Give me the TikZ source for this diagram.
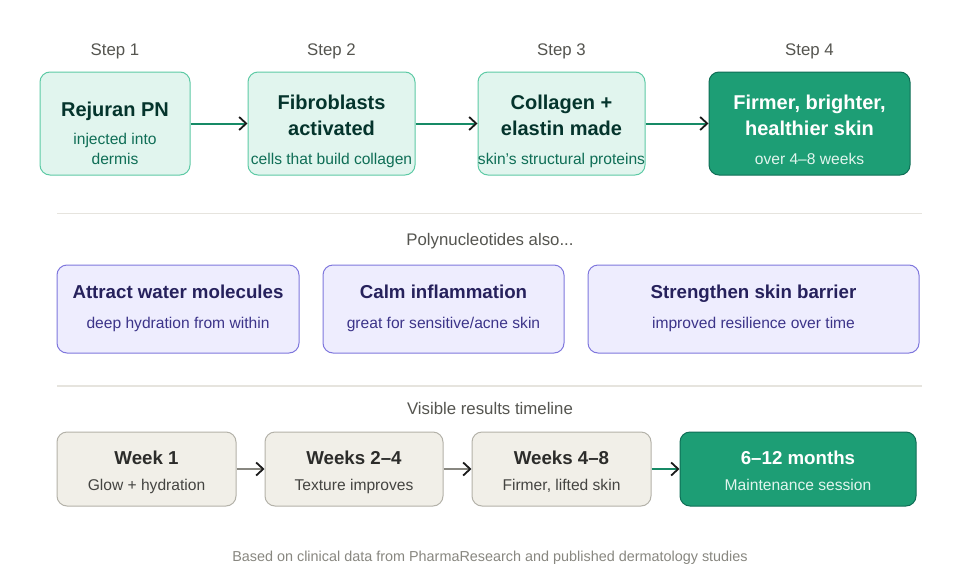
\documentclass[tikz,border=0pt]{standalone}
\usepackage{fontspec}
\setmainfont{Liberation Sans}
\usetikzlibrary{arrows.meta}
\definecolor{lgfill}{HTML}{E1F5EE}
\definecolor{lgborder}{HTML}{5DCAA5}
\definecolor{lgtitle}{HTML}{04342C}
\definecolor{lgsub}{HTML}{0F6E56}
\definecolor{dgfill}{HTML}{1D9E75}
\definecolor{dgborder}{HTML}{0F6E56}
\definecolor{dgsub}{HTML}{E1F5EE}
\definecolor{garrow}{HTML}{168A66}
\definecolor{pfill}{HTML}{EEEDFE}
\definecolor{pborder}{HTML}{7F77DD}
\definecolor{ptitle}{HTML}{26215C}
\definecolor{psub}{HTML}{3C3489}
\definecolor{bfill}{HTML}{F1EFE8}
\definecolor{bborder}{HTML}{B4B2A9}
\definecolor{btitle}{HTML}{2C2C2A}
\definecolor{bsub}{HTML}{444441}
\definecolor{grayarrow}{HTML}{888780}
\definecolor{sepline}{HTML}{E6E4DE}
\definecolor{labelcol}{HTML}{555550}
\definecolor{footcol}{HTML}{888780}
\definecolor{headcol}{HTML}{1A1A1A}
\tikzset{
  x=1pt, y=-1pt,
  boxbase/.style={draw, rounded corners=10pt, line width=1pt, inner sep=0pt},
  lgbox/.style={boxbase, fill=lgfill, draw=lgborder},
  dgbox/.style={boxbase, fill=dgfill, draw=dgborder},
  pbox/.style={boxbase, fill=pfill, draw=pborder},
  bbox/.style={boxbase, fill=bfill, draw=bborder},
  txt/.style={anchor=base, inner sep=0pt},
  ttl/.style={txt, font=\fontsize{20}{24}\selectfont\bfseries},
  ttls/.style={txt, font=\fontsize{18.7}{22}\selectfont\bfseries},
  sub/.style={txt, font=\fontsize{15.6}{19}\selectfont},
  lbl/.style={txt, font=\fontsize{16.8}{20}\selectfont, text=labelcol},
  garr/.style={draw=garrow, line width=2pt, -{Straight Barb[length=7pt,width=13pt,line width=1.8pt,color=headcol]}},
  gyarr/.style={draw=grayarrow, line width=2pt, -{Straight Barb[length=7pt,width=13pt,line width=1.8pt,color=headcol]}},
  sep/.style={draw=sepline, line width=1.5pt}
}
\begin{document}
\begin{tikzpicture}
\useasboundingbox (0,0) rectangle (980,576);
\fill[white] (0,0) rectangle (980,576);

% Row 1
\node[lbl] (s1) at (115,55) {Step 1};
\node[lbl] (s2) at (331.5,55) {Step 2};
\node[lbl] (s3) at (561.5,55) {Step 3};
\node[lbl] (s4) at (809.5,55) {Step 4};

\node[lgbox, minimum width=150pt, minimum height=103pt] (b1) at (115,123.5) {};
\node[lgbox, minimum width=167pt, minimum height=103pt] (b2) at (331.5,123.5) {};
\node[lgbox, minimum width=167pt, minimum height=103pt] (b3) at (561.5,123.5) {};
\node[dgbox, minimum width=201pt, minimum height=103pt] (b4) at (809.5,123.5) {};

\node[ttl, text=lgtitle] (b1t) at (115,116) {Rejuran PN};
\node[sub, text=lgsub] (b1s1) at (115,144) {injected into};
\node[sub, text=lgsub] (b1s2) at (115,164) {dermis};

\node[ttl, text=lgtitle] (b2t1) at (331.5,109.5) {Fibroblasts};
\node[ttl, text=lgtitle] (b2t2) at (331.5,135.5) {activated};
\node[sub, text=lgsub] (b2s) at (331.5,164) {cells that build collagen};

\node[ttl, text=lgtitle] (b3t1) at (561.5,109.5) {Collagen +};
\node[ttl, text=lgtitle] (b3t2) at (561.5,135.5) {elastin made};
\node[sub, text=lgsub] (b3s) at (561.5,164) {skin's structural proteins};

\node[ttl, text=white] (b4t1) at (809.5,109.5) {Firmer, brighter,};
\node[ttl, text=white] (b4t2) at (809.5,135.5) {healthier skin};
\node[sub, text=dgsub] (b4s) at (809.5,164) {over 4–8 weeks};

\draw[garr] (b1.east) -- (b2.west);
\draw[garr] (b2.east) -- (b3.west);
\draw[garr] (b3.east) -- (b4.west);

% Separator 1
\coordinate (sepa1) at (57,213.3);
\coordinate (sepa2) at (922,213.3);
\draw[sep] (sepa1) -- (sepa2);

\node[lbl] (poly) at (490,245) {Polynucleotides also...};

\node[pbox, minimum width=242pt, minimum height=88pt] (pa) at (178,309) {};
\node[pbox, minimum width=241pt, minimum height=88pt] (pb) at (443.5,309) {};
\node[pbox, minimum width=331pt, minimum height=88pt] (pc) at (753.5,309) {};

\node[ttls, text=ptitle] (pat) at (178,298.3) {Attract water molecules};
\node[sub, text=psub] (pas) at (178,328.3) {deep hydration from within};
\node[ttls, text=ptitle] (pbt) at (443.5,298.3) {Calm inflammation};
\node[sub, text=psub] (pbs) at (443.5,328.3) {great for sensitive/acne skin};
\node[ttls, text=ptitle] (pct) at (753.5,298.3) {Strengthen skin barrier};
\node[sub, text=psub] (pcs) at (753.5,328.3) {improved resilience over time};

% Separator 2
\coordinate (sepb1) at (57,386);
\coordinate (sepb2) at (922,386);
\draw[sep] (sepb1) -- (sepb2);

\node[lbl] (vis) at (490,414.3) {Visible results timeline};

\node[bbox, minimum width=179pt, minimum height=74pt] (w1) at (146.5,469) {};
\node[bbox, minimum width=178pt, minimum height=74pt] (w2) at (354,469) {};
\node[bbox, minimum width=179pt, minimum height=74pt] (w3) at (561.5,469) {};
\node[dgbox, minimum width=236pt, minimum height=74pt] (w4) at (798,469) {};

\node[ttls, text=btitle] (w1t) at (146.5,464) {Week 1};
\node[sub, text=bsub] (w1s) at (146.5,490) {Glow + hydration};
\node[ttls, text=btitle] (w2t) at (354,464) {Weeks 2–4};
\node[sub, text=bsub] (w2s) at (354,490) {Texture improves};
\node[ttls, text=btitle] (w3t) at (561.5,464) {Weeks 4–8};
\node[sub, text=bsub] (w3s) at (561.5,490) {Firmer, lifted skin};
\node[ttls, text=white] (w4t) at (798,464) {6–12 months};
\node[sub, text=dgsub] (w4s) at (798,490) {Maintenance session};

\draw[gyarr] (w1.east) -- (w2.west);
\draw[gyarr] (w2.east) -- (w3.west);
\draw[garr] (w3.east) -- (w4.west);

\node[txt, font=\fontsize{14.4}{17}\selectfont, text=footcol] (foot) at (490,561.5) {Based on clinical data from PharmaResearch and published dermatology studies};
\end{tikzpicture}
\end{document}
